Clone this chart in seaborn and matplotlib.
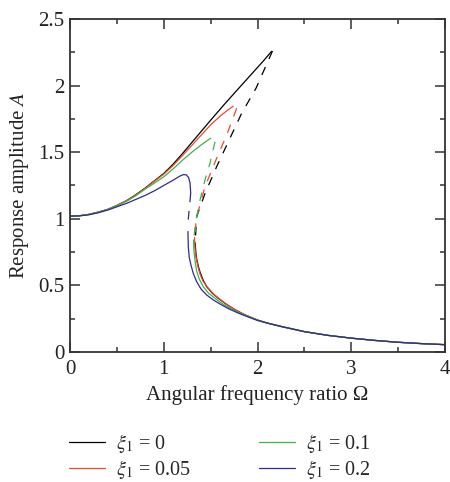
import pandas as pd
import matplotlib
matplotlib.use("Agg")
import matplotlib.pyplot as plt
import seaborn as sns
from matplotlib.lines import Line2D
from matplotlib.ticker import MultipleLocator, FuncFormatter

# damping values and colours
xi_values = ['0', '0.05', '0.1', '0.2']
colors = ['#000000', '#ec4a2b', '#3cb44b', '#2e2d8f']

# upper stable branches (Omega, A)
up_w_0 = [0, 0.1, 0.2, 0.3, 0.4, 0.5, 0.6, 0.7, 0.8, 0.9, 1.0, 1.1, 1.2, 1.35, 1.5, 1.65, 1.8, 1.95, 2.06, 2.15]
up_a_0 = [1.02, 1.023, 1.033, 1.05, 1.07, 1.10, 1.135, 1.18, 1.23, 1.285, 1.34, 1.41, 1.49, 1.615, 1.74, 1.862, 1.98, 2.097, 2.183, 2.257]
up_w_005 = [0, 0.1, 0.2, 0.3, 0.4, 0.5, 0.6, 0.7, 0.8, 0.9, 1.0, 1.1, 1.2, 1.35, 1.5, 1.6, 1.68, 1.74]
up_a_005 = [1.02, 1.023, 1.033, 1.05, 1.07, 1.10, 1.135, 1.178, 1.228, 1.282, 1.335, 1.40, 1.475, 1.59, 1.705, 1.77, 1.815, 1.845]
up_w_01 = [0, 0.1, 0.2, 0.3, 0.4, 0.5, 0.6, 0.7, 0.8, 0.9, 1.0, 1.1, 1.2, 1.3, 1.4, 1.46, 1.5]
up_a_01 = [1.02, 1.023, 1.032, 1.049, 1.068, 1.097, 1.13, 1.172, 1.222, 1.268, 1.315, 1.375, 1.44, 1.50, 1.555, 1.585, 1.605]
up_w_02 = [0, 0.1, 0.2, 0.3, 0.4, 0.5, 0.6, 0.7, 0.8, 0.9, 1.0, 1.1, 1.17, 1.21, 1.24, 1.265, 1.28, 1.285, 1.287]
up_a_02 = [1.02, 1.022, 1.03, 1.045, 1.065, 1.09, 1.115, 1.145, 1.175, 1.21, 1.25, 1.29, 1.32, 1.332, 1.33, 1.31, 1.27, 1.22, 1.19]

# unstable (dashed) branches
un_w_0 = [2.16, 1.984, 1.831, 1.689, 1.564, 1.44, 1.351, 1.335]
un_a_0 = [2.26, 1.98, 1.792, 1.579, 1.391, 1.19, 1.016, 0.82]
un_w_005 = [1.778, 1.671, 1.564, 1.44, 1.351, 1.328]
un_a_005 = [1.83, 1.629, 1.454, 1.241, 1.016, 0.86]
un_w_01 = [1.547, 1.493, 1.44, 1.387, 1.344, 1.318]
un_a_01 = [1.579, 1.416, 1.291, 1.141, 0.991, 0.84]
un_w_02 = [1.287, 1.275, 1.266, 1.258, 1.255]
un_a_02 = [1.19, 1.091, 1.03, 0.97, 0.93]

# lower stable branches (shared tail at high frequency)
tail_w = [2.1, 2.25, 2.5, 2.75, 3.0, 3.25, 3.5, 3.75, 4.0]
tail_a = [0.218, 0.192, 0.153, 0.125, 0.104, 0.087, 0.073, 0.063, 0.055]
lo_w_0 = [1.335, 1.342, 1.351, 1.37, 1.387, 1.42, 1.458, 1.52, 1.582, 1.66, 1.742, 1.867, 2.0]
lo_a_0 = [0.82, 0.75, 0.70, 0.64, 0.60, 0.54, 0.49, 0.44, 0.403, 0.362, 0.325, 0.278, 0.24]
lo_w_005 = [1.328, 1.333, 1.345, 1.365, 1.387, 1.42, 1.476, 1.54, 1.6, 1.7, 1.82, 2.0]
lo_a_005 = [0.86, 0.78, 0.71, 0.64, 0.585, 0.53, 0.478, 0.43, 0.395, 0.342, 0.294, 0.24]
lo_w_01 = [1.318, 1.322, 1.333, 1.35, 1.38, 1.422, 1.48, 1.547, 1.63, 1.73, 1.85, 2.0]
lo_a_01 = [0.84, 0.76, 0.69, 0.61, 0.545, 0.49, 0.44, 0.403, 0.36, 0.32, 0.281, 0.239]
lo_w_02 = [1.258, 1.262, 1.272, 1.29, 1.315, 1.351, 1.40, 1.458, 1.53, 1.618, 1.7, 1.795, 1.9, 2.0]
lo_a_02 = [0.905, 0.79, 0.71, 0.653, 0.59, 0.528, 0.47, 0.428, 0.39, 0.353, 0.322, 0.292, 0.263, 0.237]

branches = [
    ('0', 'stable', up_w_0, up_a_0), ('0', 'unstable', un_w_0, un_a_0),
    ('0', 'stable', lo_w_0 + tail_w, lo_a_0 + tail_a),
    ('0.05', 'stable', up_w_005, up_a_005), ('0.05', 'unstable', un_w_005, un_a_005),
    ('0.05', 'stable', lo_w_005 + tail_w, lo_a_005 + tail_a),
    ('0.1', 'stable', up_w_01, up_a_01), ('0.1', 'unstable', un_w_01, un_a_01),
    ('0.1', 'stable', lo_w_01 + tail_w, lo_a_01 + tail_a),
    ('0.2', 'stable', up_w_02, up_a_02), ('0.2', 'unstable', un_w_02, un_a_02),
    ('0.2', 'stable', lo_w_02 + tail_w, lo_a_02 + tail_a),
]

rows = []
for i, (xi, kind, w, a) in enumerate(branches):
    for wi, ai in zip(w, a):
        rows.append({'Omega': wi, 'A': ai, 'xi': xi, 'kind': kind, 'seg': i})
df = pd.DataFrame(rows)

sns.set_theme(style='ticks')
plt.rcParams['font.family'] = ['Liberation Serif', 'DejaVu Serif']
plt.rcParams['mathtext.fontset'] = 'stix'

fig = plt.figure(figsize=(4.5, 4.82), dpi=100)
ax = fig.add_axes([70/450, 1-352/482, 375/450, 333/482])

sns.lineplot(data=df, x='Omega', y='A', hue='xi', style='kind', units='seg',
             estimator=None, sort=False, hue_order=xi_values,
             palette=dict(zip(xi_values, colors)),
             style_order=['stable', 'unstable'],
             dashes={'stable': '', 'unstable': (7, 7)},
             linewidth=0.9, legend=False, ax=ax)

ax.set_xlim(0, 4)
ax.set_ylim(0, 2.5)
ax.xaxis.set_major_locator(MultipleLocator(1))
ax.xaxis.set_minor_locator(MultipleLocator(0.5))
ax.yaxis.set_major_locator(MultipleLocator(0.5))
ax.yaxis.set_minor_locator(MultipleLocator(0.25))
ax.xaxis.set_major_formatter(FuncFormatter(lambda v, p: f"{v:g}"))
ax.yaxis.set_major_formatter(FuncFormatter(lambda v, p: f"{v:g}"))
ax.tick_params(which='both', direction='in', top=True, right=True, colors='#333333',
               labelcolor='#222222', labelsize=15, width=1.1)
ax.tick_params(which='major', length=7)
ax.tick_params(which='minor', length=3.5)
ax.tick_params(axis='x', which='major', pad=6)
ax.tick_params(axis='y', which='major', pad=4)
for s in ax.spines.values():
    s.set_linewidth(1.3)
    s.set_color('#333333')

ax.set_xlabel('Angular frequency ratio Ω', fontsize=15, color='#222222', labelpad=4)
ax.set_ylabel('Response amplitude $A$', fontsize=15, color='#222222', labelpad=5)

handles = [Line2D([], [], color=c, linewidth=0.9) for c in colors]
labels = [rf'$\xi_1$ = {x}' for x in xi_values]
fig.legend(handles, labels, ncol=2, frameon=False, fontsize=14.5,
           loc='upper left', bbox_to_anchor=(61/450, 1-424/482),
           handlelength=1.8, handletextpad=0.55, columnspacing=3.35,
           labelspacing=0.15, borderaxespad=0)

fig.savefig('out.png', dpi=100)
